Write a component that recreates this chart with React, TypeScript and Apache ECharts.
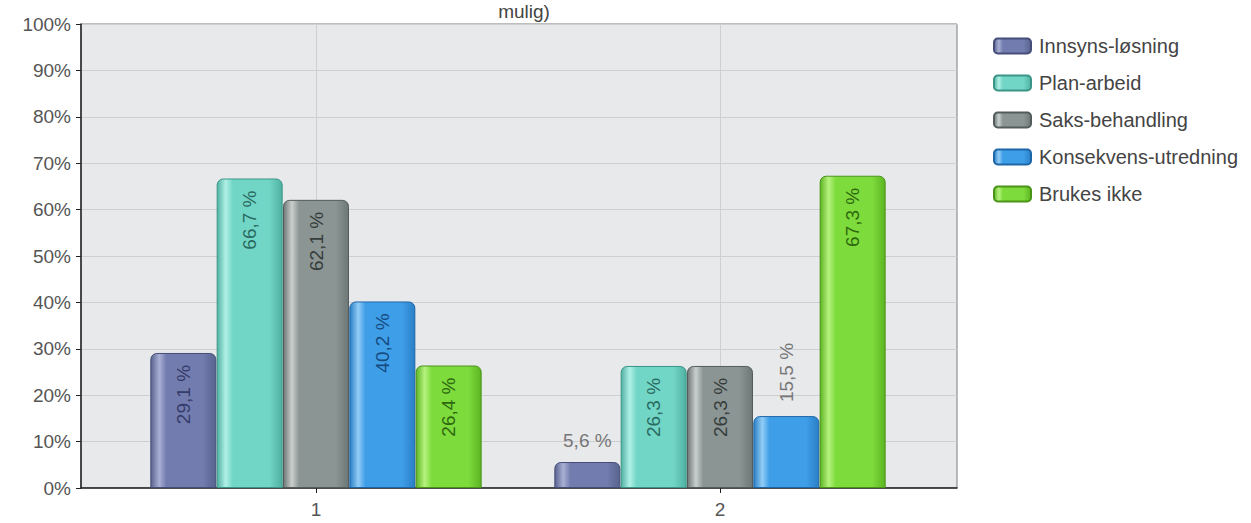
import React, { useEffect, useRef } from "react";
import * as echarts from "echarts";

const categories = ["1", "2"];
const seriesNames = ["Innsyns-løsning", "Plan-arbeid", "Saks-behandling", "Konsekvens-utredning", "Brukes ikke"];
const innsyns = [29.1, 5.6];
const planArbeid = [66.7, 26.3];
const saksBehandling = [62.1, 26.3];
const konsekvens = [40.2, 15.5];
const brukesIkke = [26.4, 67.3];
const values = [innsyns, planArbeid, saksBehandling, konsekvens, brukesIkke];
const titleTail = "mulig)";

// [edge dark, highlight, base, border, label colour]
const palette = [
  ["#59638f", "#a9b0d4", "#727cae", "#454d78", "#353d6c"],
  ["#4fb1a2", "#b0f0e6", "#72d6c6", "#3a9587", "#2a6b62"],
  ["#6d7775", "#c9d0ce", "#8b9593", "#525c5a", "#363d3c"],
  ["#2a7fc6", "#92cdf7", "#3f9ee8", "#1d66a8", "#154c82"],
  ["#5cb523", "#b6f27f", "#7edb3c", "#4a9418", "#2e6910"],
];

const fmt = (v: number) => v.toFixed(1).replace(".", ",") + " %";
const FONT = "'Liberation Sans', Arial, sans-serif";

function grad(p: string[]) {
  return new echarts.graphic.LinearGradient(0, 0, 1, 0, [
    { offset: 0, color: p[0] },
    { offset: 0.13, color: p[1] },
    { offset: 0.24, color: p[2] },
    { offset: 0.8, color: p[2] },
    { offset: 1, color: p[0] },
  ]);
}

export default function App() {
  const ref = useRef<HTMLDivElement>(null);
  useEffect(() => {
    document.body.style.margin = "0";
    const chart = echarts.init(ref.current!, null, { renderer: "svg" });
    const bars = seriesNames.map((name, i) => ({
      name,
      type: "bar",
      xAxisIndex: 1,
      yAxisIndex: 1,
      barWidth: 66,
      barGap: "0.5%",
      z: 3,
      itemStyle: {
        color: grad(palette[i]),
        borderColor: palette[i][3],
        borderWidth: 1,
        borderRadius: [6, 6, 0, 0],
      },
      label: {
        show: true,
        position: "insideTop",
        rotate: 90,
        align: "right",
        verticalAlign: "middle",
        distance: 12,
        fontSize: 19,
        fontFamily: FONT,
        color: palette[i][4],
        formatter: (p: any) => fmt(p.value),
      },
      data: values[i].map((v) => {
        if (v < 10) {
          return {
            value: v,
            label: { position: "top", rotate: 0, align: "center", verticalAlign: "bottom", distance: 12, color: "#777" },
          };
        }
        if (v < 20) {
          return {
            value: v,
            label: { position: "top", rotate: 90, align: "left", verticalAlign: "middle", distance: 14, color: "#777" },
          };
        }
        return v;
      }),
    }));
    chart.setOption({
      animation: false,
      backgroundColor: "#ffffff",
      textStyle: { fontFamily: FONT },
      legend: {
        orient: "vertical",
        left: 988,
        top: 30,
        itemWidth: 37,
        itemHeight: 15,
        itemGap: 15,
        icon: "roundRect",
        data: seriesNames,
        textStyle: { fontSize: 20, color: "#444", fontFamily: FONT, lineHeight: 22, padding: [0, 0, 0, 3] },
      },
      graphic: [
        {
          type: "text",
          x: 524,
          y: 11,
          z: 10,
          style: {
            text: titleTail,
            align: "center",
            verticalAlign: "middle",
            font: `19px ${FONT}`,
            fill: "#444",
          },
        },
      ],
      grid: [
        {
          left: 81,
          right: 294,
          top: 24,
          bottom: 35,
          show: true,
          backgroundColor: "#e8e9eb",
          borderColor: "#7c7c7c",
          borderWidth: 1,
        },
        { left: 114, right: 329, top: 24, bottom: 35 },
      ],
      xAxis: [
        {
          gridIndex: 0,
          type: "value",
          min: 0,
          max: 1,
          axisLine: { show: true, lineStyle: { color: "#222", width: 1.5 } },
          axisTick: { show: false },
          axisLabel: { show: false },
          splitLine: { show: false },
        },
        {
          gridIndex: 1,
          type: "category",
          data: categories,
          axisLine: { show: false },
          axisTick: { show: true, alignWithLabel: true, length: 5, lineStyle: { color: "#222" } },
          axisLabel: { fontSize: 19, color: "#555", margin: 12, fontFamily: FONT },
          splitLine: { show: false },
        },
      ],
      yAxis: [
        {
          gridIndex: 0,
          type: "value",
          min: 0,
          max: 100,
          interval: 10,
          axisLine: { show: true, lineStyle: { color: "#222", width: 1.5 } },
          axisTick: { show: true, length: 5, lineStyle: { color: "#222" } },
          axisLabel: { formatter: "{value}%", fontSize: 19, color: "#555", margin: 10, fontFamily: FONT },
          splitLine: { show: true, lineStyle: { color: "#cdd0d3", width: 1 } },
        },
        {
          gridIndex: 1,
          type: "value",
          min: 0,
          max: 100,
          show: false,
          splitLine: { show: false },
        },
      ],
      series: [
        {
          type: "line",
          xAxisIndex: 1,
          yAxisIndex: 1,
          data: [],
          z: 1,
          markLine: {
            silent: true,
            symbol: "none",
            z: 1,
            label: { show: false },
            lineStyle: { color: "#cdd0d3", type: "solid", width: 1 },
            data: categories.map((c) => ({ xAxis: c })),
          },
        },
        ...bars,
      ],
    });
    return () => chart.dispose();
  }, []);
  return <div ref={ref} style={{ width: 1251, height: 523 }} />;
}
